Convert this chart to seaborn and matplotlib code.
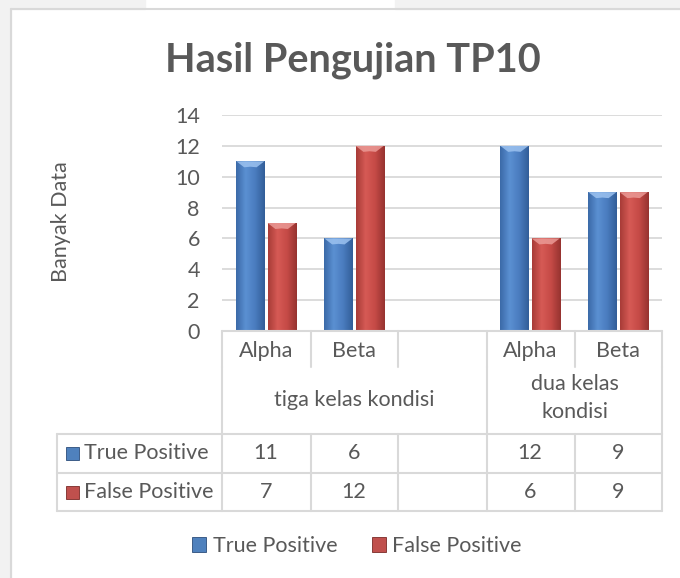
import numpy as np
import pandas as pd
import matplotlib
matplotlib.use('Agg')
import matplotlib.pyplot as plt
import matplotlib.transforms as mtransforms
from matplotlib.lines import Line2D
from matplotlib.patches import Patch, Rectangle, Polygon
from matplotlib.colors import LinearSegmentedColormap
import seaborn as sns

# Chart data
slot_labels = ['Alpha', 'Beta', '', 'Alpha', 'Beta']
groups = ['tiga kelas kondisi', 'dua kelas\nkondisi']
series = ['True Positive', 'False Positive']
true_pos = [11, 6, np.nan, 12, 9]
false_pos = [7, 12, np.nan, 6, 9]
y_ticks = [0, 2, 4, 6, 8, 10, 12, 14]

TEXT = '#595959'
GRID = '#d9d9d9'
BLUE = '#4f81bd'
RED = '#c0504d'
EDGES = ['#2c4d7a', '#7a2a27']
BEVEL = ['#9cc2f0', '#eb9a96']
FS = 15.5
W, H = 680, 578

sns.set_theme(style='white')
plt.rcParams['font.family'] = ['Lato', 'DejaVu Sans']


def fx(px):
    return px / W


def fy(py):
    return 1 - py / H


slot_ids = ['s%d' % i for i in range(len(slot_labels))]
df = pd.DataFrame({
    'slot': slot_ids * 2,
    'series': [series[0]] * 5 + [series[1]] * 5,
    'value': true_pos + false_pos,
})

fig = plt.figure(figsize=(W / 100, H / 100), dpi=100)

# outer page background and chart border
fig.patches.append(Rectangle((0, 0), fx(11), 1, transform=fig.transFigure, color='#f2f2f2', zorder=-5))
fig.patches.append(Rectangle((0, fy(9)), fx(145), 1, transform=fig.transFigure, color='#f2f2f2', zorder=-5))
fig.patches.append(Rectangle((fx(395), fy(9)), 1, 1, transform=fig.transFigure, color='#f2f2f2', zorder=-5))
fig.add_artist(Line2D([fx(11), fx(11)], [0, fy(9)], color='#d9d9d9', lw=1.5))
fig.add_artist(Line2D([fx(11), 1], [fy(9), fy(9)], color='#d9d9d9', lw=1.5))

ax = fig.add_axes([fx(222), fy(331), fx(662) - fx(222), fy(115) - fy(331)])
sns.barplot(data=df, x='slot', y='value', hue='series', order=slot_ids, hue_order=series,
            palette=[BLUE, RED], width=0.71, gap=0.1, errorbar=None, legend=False, ax=ax,
            edgecolor='none', zorder=3)

# Excel-like gradient and top bevel on each bar
cmaps = [
    LinearSegmentedColormap.from_list('b', ['#3b6aa8', '#5b90d2', '#4a7cbf', '#325e98']),
    LinearSegmentedColormap.from_list('r', ['#a83c38', '#d65a55', '#c54a46', '#963330']),
]
grad = np.linspace(0, 1, 64).reshape(1, -1)
bevel_h = 14 / (fy(115) - fy(331)) / H * 0.45  # ~6 px in data units
for k, cont in enumerate(ax.containers):
    for p in cont:
        x0, y0 = p.get_x(), p.get_y()
        w, h = p.get_width(), p.get_height()
        if np.isnan(h) or h == 0:
            continue
        im = ax.imshow(grad, extent=[x0, x0 + w, y0, y0 + h], aspect='auto', cmap=cmaps[k], zorder=4)
        im.set_clip_path(p)
        p.set_edgecolor(EDGES[k])
        p.set_linewidth(0.6)
        top = y0 + h
        bh = 6 * 14 / 216
        ax.add_patch(Polygon([(x0, top), (x0 + w, top), (x0 + w * 0.72, top - bh),
                              (x0 + w * 0.5, top - bh * 0.9), (x0 + w * 0.28, top - bh)],
                             closed=True, facecolor=BEVEL[k], edgecolor='none', alpha=0.85, zorder=5))

ax.set_xlim(-0.5, 4.5)
ax.set_ylim(0, 14)
ax.set_yticks(y_ticks)
ax.yaxis.grid(True, color=GRID, lw=1.3, zorder=0)
ax.set_axisbelow(True)
for s in ax.spines.values():
    s.set_visible(False)
ax.tick_params(axis='y', length=0, pad=16, labelsize=FS, labelcolor=TEXT)
ax.set_xticks(range(len(slot_labels)))
ax.set_xticklabels(slot_labels)
ax.tick_params(axis='x', length=0, pad=7, labelsize=FS, labelcolor=TEXT)
ax.set_xlabel('')
ax.set_ylabel('')

fig.text(fx(61), fy(222), 'Banyak Data', rotation=90, ha='center', va='center',
         fontsize=FS, color=TEXT)
fig.text(fx(353), fy(60), 'Hasil Pengujian TP10', ha='center', va='center',
         fontsize=28.5, fontweight='bold', color=TEXT)

# data table
lw = 1.5
bt = mtransforms.blended_transform_factory(ax.transData, fig.transFigure)
edges = [fx(222), fx(311), fx(398), fx(487), fx(575), fx(662)]
fig.add_artist(Line2D([edges[0], edges[-1]], [fy(331), fy(331)], color=GRID, lw=lw))
for xe in edges:
    fig.add_artist(Line2D([xe, xe], [fy(331), fy(367)], color=GRID, lw=lw))
for xe in [edges[0], edges[3], edges[5]]:
    fig.add_artist(Line2D([xe, xe], [fy(367), fy(434)], color=GRID, lw=lw))
for yy in [434, 473, 511]:
    fig.add_artist(Line2D([fx(57), edges[-1]], [fy(yy), fy(yy)], color=GRID, lw=lw))
for xe in [fx(57)] + edges:
    fig.add_artist(Line2D([xe, xe], [fy(434), fy(511)], color=GRID, lw=lw))

fig.text(fx(354), fy(400), groups[0], ha='center', va='center', fontsize=FS, color=TEXT)
fig.text(fx(575), fy(398), groups[1], ha='center', va='center', fontsize=FS, color=TEXT,
         linespacing=1.45)

row_y = [453, 492]
for k, (vals, ry, name, col) in enumerate(zip([true_pos, false_pos], row_y, series, [BLUE, RED])):
    fig.patches.append(Rectangle((fx(66), fy(ry + 7)), fx(13), fy(0) - fy(13),
                                 transform=fig.transFigure, facecolor=col,
                                 edgecolor=EDGES[k], lw=0.6))
    fig.text(fx(84), fy(ry), name, ha='left', va='center', fontsize=FS, color=TEXT)
    for i, v in enumerate(vals):
        if not np.isnan(v):
            ax.text(i, fy(ry), '%d' % v, transform=bt, ha='center', va='center',
                    fontsize=FS, color=TEXT)

handles = [Patch(facecolor=BLUE, edgecolor=EDGES[0], lw=0.6),
           Patch(facecolor=RED, edgecolor=EDGES[1], lw=0.6)]
fig.legend(handles, series, loc='center', bbox_to_anchor=(fx(357), fy(546)), ncol=2,
           frameon=False, fontsize=FS, handlelength=0.65, handleheight=0.65,
           handletextpad=0.3, columnspacing=1.6, labelcolor=TEXT)

fig.savefig('out.png', dpi=100)
